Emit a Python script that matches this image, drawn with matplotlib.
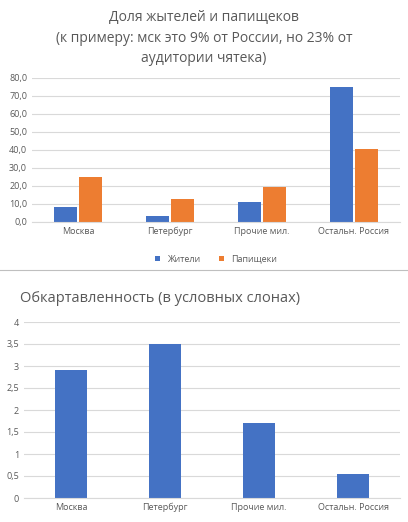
import matplotlib.pyplot as plt
import numpy as np

plt.rcParams['font.family'] = ['Open Sans', 'DejaVu Sans']

cities = ['Москва', 'Петербург', 'Прочие мил.', 'Остальн. Россия']
residents = [8.5, 3.5, 11.0, 75.0]
readers = [25.0, 13.0, 19.5, 40.5]
cards = [2.9, 3.5, 1.7, 0.55]

blue = '#4472C4'
orange = '#ED7D31'
W, H = 408, 522


def px_axes(fig, left, top, right, bottom):
    return fig.add_axes([left / W, 1 - bottom / H, (right - left) / W, (bottom - top) / H])


def style(ax):
    ax.grid(axis='y', color='#d9d9d9', linewidth=0.8)
    ax.set_axisbelow(True)
    for s in ['top', 'right', 'left']:
        ax.spines[s].set_visible(False)
    ax.spines['bottom'].set_color('#d9d9d9')
    ax.tick_params(length=0, labelsize=6.5, colors='#595959')


fig = plt.figure(figsize=(W / 100, H / 100), dpi=100)

# top chart
ax1 = px_axes(fig, 32, 78, 400, 222)
x = np.arange(len(cities))
bw = 0.25
ax1.bar(x - bw / 2 - 0.01, residents, bw, color=blue, label='Жители')
ax1.bar(x + bw / 2 + 0.01, readers, bw, color=orange, label='Папищеки')
ax1.set_ylim(0, 80)
ax1.set_yticks(np.arange(0, 81, 10))
ax1.set_yticklabels([f'{v:.1f}'.replace('.', ',') for v in np.arange(0, 81, 10)])
ax1.set_xticks(x)
ax1.set_xticklabels(cities)
ax1.set_xlim(-0.5, 3.5)
style(ax1)
ax1.legend(loc='upper center', bbox_to_anchor=(0.5, -0.17), ncol=2, frameon=False,
           fontsize=6.5, handlelength=0.6, handleheight=0.6, labelcolor='#595959')
fig.text(0.5, 1 - 17 / H, 'Доля жытелей и папищеков', ha='center', va='center',
         fontsize=10, color='#595959')
fig.text(0.5, 1 - 38 / H, '(к примеру: мск это 9% от России, но 23% от', ha='center',
         va='center', fontsize=10, color='#595959')
fig.text(0.5, 1 - 58 / H, 'аудитории чятека)', ha='center', va='center',
         fontsize=10, color='#595959')

# separator
fig.add_artist(plt.Line2D([0, 1], [1 - 270 / H, 1 - 270 / H], color='#bfbfbf', linewidth=0.8))

# bottom chart
ax2 = px_axes(fig, 24, 322, 400, 498)
ax2.bar(x, cards, 0.35, color=blue)
ax2.set_ylim(0, 4)
yt = np.arange(0, 4.01, 0.5)
ax2.set_yticks(yt)
ax2.set_yticklabels([f'{v:g}'.replace('.', ',') for v in yt])
ax2.set_xticks(x)
ax2.set_xticklabels(cities)
ax2.set_xlim(-0.5, 3.5)
style(ax2)
fig.text(0.05, 1 - 298 / H, 'Обкартавленность (в условных слонах)', ha='left', va='center',
         fontsize=10.5, color='#595959')

fig.savefig('out.png', dpi=100)
